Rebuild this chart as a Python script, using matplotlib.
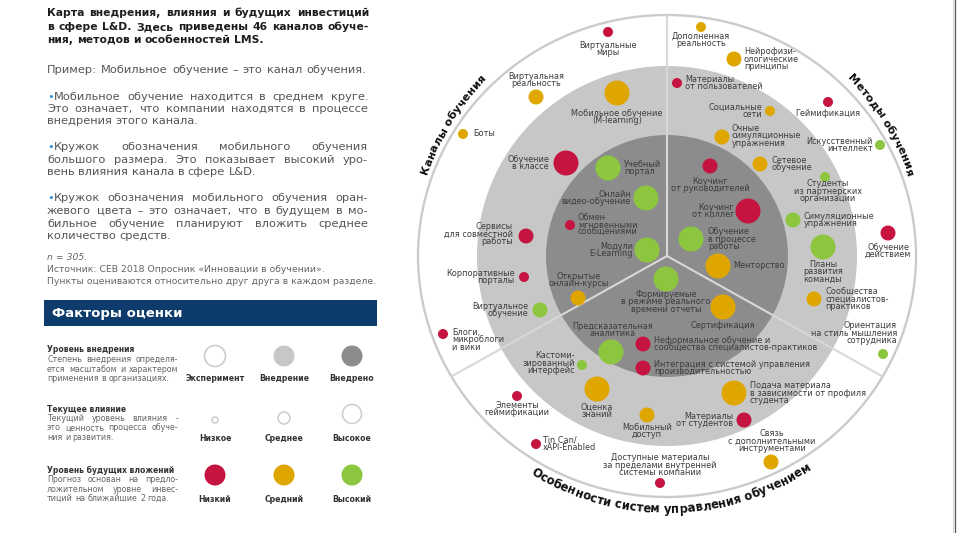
import matplotlib
matplotlib.use("Agg")
import matplotlib.pyplot as plt
from matplotlib.patches import Circle, Ellipse, Rectangle
from matplotlib.font_manager import FontProperties
import numpy as np

# ---------------- data ----------------
sector_titles = ["Каналы обучения", "Методы обучения", "Особенности систем управления обучением"]

names = [
    # channels
    "Виртуальные\nмиры", "Виртуальная\nреальность", "Мобильное обучение\n(M-learning)", "Боты",
    "Обучение\nв классе", "Учебный\nпортал", "Онлайн\nвидео-обучение",
    "Обмен\nмгновенными\nсообщениями", "Сервисы\nдля совместной\nработы", "Модули\nE-Learning",
    "Корпоративные\nпорталы", "Виртуальное\nобучение", "Блоги,\nмикроблоги\nи вики",
    "Открытые\nонлайн-курсы",
    # methods
    "Дополненная\nреальность", "Нейрофизи-\nологические\nпринципы", "Материалы\nот пользователей",
    "Социальные\nсети", "Геймификация", "Очные\nсимуляционные\nупражнения",
    "Искусственный\nинтеллект", "Сетевое\nобучение", "Студенты\nиз партнерских\nорганизации",
    "Коучинг\nот руководителей", "Коучинг\nот коллег", "Симуляционные\nупражнения",
    "Обучение\nдействием", "Обучение\nв процессе\nработы", "Планы\nразвития\nкоманды",
    "Менторство", "Сообщества\nспециалистов-\nпрактиков", "Ориентация\nна стиль мышления\nсотрудника",
    # LMS features
    "Формируемые\nв режиме реального\nвремени отчеты", "Сертификация",
    "Предсказательная\nаналитика",
    "Неформальное обучение и\nсообщества специалистов-практиков",
    "Интеграция с системой управления\nпроизводительностью",
    "Кастоми-\nзированный\nинтерфейс", "Оценка\nзнаний", "Элементы\nгеймификации",
    "Мобильный\nдоступ", "Подача материала\nв зависимости от профиля\nстудента",
    "Материалы\nот студентов", "Tin Can/\nxAPI-Enabled",
    "Связь\nс дополнительными\nинструментами",
    "Доступные материалы\nза пределами внутренней\nсистемы компании",
]
# current impact: 1 low, 2 medium, 3 high
impact = [1, 2, 3, 1, 3, 3, 3, 1, 2, 3, 1, 2, 1, 2,
          1, 2, 1, 1, 1, 2, 1, 2, 1, 2, 3, 2, 2, 3, 3, 3, 2, 1,
          3, 3, 3, 2, 2, 1, 3, 1, 2, 3, 2, 1, 2, 1]
# future investment: L low, M medium, H high
invest = ["L", "M", "M", "M", "L", "H", "H", "L", "L", "H", "L", "H", "L", "M",
          "M", "M", "L", "M", "L", "M", "H", "M", "H", "L", "L", "H", "L", "H", "H", "M", "M", "H",
          "H", "M", "H", "L", "L", "H", "M", "L", "M", "M", "L", "L", "M", "L"]

# ---------------- layout (pixel positions of bubbles and labels) ----------------
bubble_xy = [
    (608, 32), (536, 97), (617, 93), (463, 134), (566, 163), (608, 168), (646, 198),
    (570, 225), (526, 236), (647, 250), (524, 277), (540, 310), (443, 334), (578, 298),
    (701, 27), (734, 59), (677, 83), (770, 111), (828, 102), (722, 137), (880, 145),
    (760, 164), (825, 177), (710, 166), (748, 211), (793, 220), (888, 233), (691, 239),
    (823, 247), (718, 266), (814, 299), (883, 354),
    (666, 279), (723, 307), (611, 352), (643, 344), (643, 368), (582, 365), (597, 389),
    (517, 396), (647, 415), (734, 393), (744, 420), (536, 444), (771, 462), (660, 483),
]
label_xy = [
    (608, 49, "center"), (536, 80, "center"), (617, 117, "center"), (473, 134, "left"),
    (549, 163, "right"), (624, 168, "left"), (631, 198, "right"), (578, 225, "left"),
    (513, 234, "right"), (633, 250, "right"), (515, 277, "right"), (528, 310, "right"),
    (452, 340, "left"), (579, 280, "center"),
    (701, 40, "center"), (744, 59, "left"), (685, 83, "left"), (762, 111, "right"),
    (828, 113, "center"), (732, 136, "left"), (873, 145, "right"), (771, 164, "left"),
    (828, 191, "center"), (710, 185, "center"), (734, 211, "right"), (804, 220, "left"),
    (888, 251, "center"), (708, 239, "left"), (823, 272, "center"), (733, 266, "left"),
    (825, 299, "left"), (897, 333, "right"),
    (666, 302, "center"), (723, 325, "center"), (613, 330, "center"), (654, 344, "left"),
    (654, 368, "left"), (575, 363, "right"), (597, 411, "center"), (517, 409, "center"),
    (647, 431, "center"), (750, 393, "left"), (733, 420, "right"), (543, 444, "left"),
    (772, 441, "center"), (660, 465, "center"),
]

W, H = 957, 533
CX, CY = 667, 256
R_OUT_X, R_OUT_Y = 249, 241
R_MID = 190
R_IN = 121

C_RED, C_ORA, C_GRN = "#c4143f", "#e0a600", "#8cc63e"
C_DARK, C_LIGHT = "#8c8c8c", "#c7c7c7"
inv_color = {"L": C_RED, "M": C_ORA, "H": C_GRN}
imp_radius = {1: 5.0, 2: 7.5, 3: 12.5}

FONT = "DejaVu Sans"
plt.rcParams["font.family"] = [FONT]

fig = plt.figure(figsize=(W / 100, H / 100), dpi=100)
ax = fig.add_axes([0, 0, 1, 1])
ax.set_xlim(0, W)
ax.set_ylim(H, 0)
ax.axis("off")
renderer = fig.canvas.get_renderer()


def text_w(s, fp):
    if s == "":
        return 0.0
    return renderer.get_text_width_height_descent(s, fp, ismath=False)[0]


# ---------------- the wheel ----------------
ax.add_patch(Ellipse((CX, CY), 2 * R_OUT_X, 2 * R_OUT_Y, facecolor="white",
                     edgecolor="#cbcbcb", lw=1.7, zorder=1))
ax.add_patch(Circle((CX, CY), R_MID, facecolor=C_LIGHT, edgecolor="none", zorder=2))
ax.add_patch(Circle((CX, CY), R_IN, facecolor=C_DARK, edgecolor="none", zorder=3))
for ang in (90, 210, 330):
    t = np.radians(ang)
    ax.plot([CX, CX + R_OUT_X * np.cos(t)], [CY, CY - R_OUT_Y * np.sin(t)],
            color="#d8d8d8", lw=1.5, zorder=4, solid_capstyle="butt")

lab_fp = FontProperties(family=FONT, size=5.9)
for (x, y), (lx, ly, ha), nm, im, iv in zip(bubble_xy, label_xy, names, impact, invest):
    ax.add_patch(Circle((x, y), imp_radius[im], facecolor=inv_color[iv],
                        edgecolor="none", zorder=6))
    ax.text(lx, ly, nm, ha=ha, va="center", multialignment=ha, fontproperties=lab_fp,
            color="#3c3c3c", linespacing=0.76, zorder=7)


def arc_text(text, theta_c, R, size, outward=True):
    fp = FontProperties(family=FONT, weight="bold", size=size)
    L = text_w(text, fp)
    d = -1 if outward else 1
    th0 = np.radians(theta_c) - d * (L / 2) / R
    for i, ch in enumerate(text):
        if ch == " ":
            continue
        s = text_w(text[:i], fp) + text_w(ch, fp) / 2
        th = th0 + d * s / R
        x = CX + R * np.cos(th)
        y = CY - R * np.sin(th)
        rot = np.degrees(th) - 90 if outward else np.degrees(th) + 90
        ax.text(x, y, ch, rotation=rot, ha="center", va="baseline",
                rotation_mode="anchor", fontproperties=fp, color="#111111", zorder=8)


arc_text(sector_titles[0], 148.5, 253, 8.0, outward=True)
arc_text(sector_titles[1], 31.5, 253, 8.0, outward=True)
arc_text(sector_titles[2], 271, 257, 8.4, outward=False)

# right border line of the page
ax.plot([954.5, 954.5], [0, H], color="#555555", lw=0.9)
ax.plot([952.5, 952.5], [0, H], color="#d5d5d5", lw=0.8)

# ---------------- left text ----------------
XL, XR = 47, 369


def fit_size(lines_x0, x1, base_fp, shrink=0.985):
    """largest font size so every line fits with plain spaces"""
    best = 100.0
    for ln, x0 in lines_x0:
        w1 = text_w(ln, base_fp) / base_fp.get_size_in_points()
        best = min(best, (x1 - x0) / w1)
    return best * shrink


def justify(line, y, fp, color, x0=XL, x1=XR, just=True):
    words = line.split(" ")
    ws = [text_w(w, fp) for w in words]
    if just and len(words) > 1:
        gap = (x1 - x0 - sum(ws)) / (len(words) - 1)
    else:
        gap = text_w("a a", fp) - 2 * text_w("a", fp)
    x = x0
    for w, wd in zip(words, ws):
        ax.text(x, y, w, ha="left", va="center", fontproperties=fp, color=color)
        x += wd + gap


title_lines = ["Карта внедрения, влияния и будущих инвестиций",
               "в сфере L&D. Здесь приведены 46 каналов обуче-",
               "ния, методов и особенностей LMS."]
title_fp = FontProperties(family=FONT, weight="bold", size=8)
title_fp.set_size(fit_size([(l, XL) for l in title_lines[:2]], XR, title_fp))
for i, (ln, y) in enumerate(zip(title_lines, [13, 27, 40])):
    justify(ln, y, title_fp, "#1e1e1e", just=i < 2)

paras = [
    (["Мобильное обучение находится в среднем круге.",
      "Это означает, что компании находятся в процессе",
      "внедрения этого канала."], [97, 109, 121]),
    (["Кружок обозначения мобильного обучения",
      "большого размера. Это показывает высокий уро-",
      "вень влияния канала в сфере L&D."], [147, 160, 172]),
    (["Кружок обозначения мобильного обучения оран-",
      "жевого цвета – это означает, что в будущем в мо-",
      "бильное обучение планируют вложить среднее",
      "количество средств."], [198, 211, 224, 236]),
]
body_fp = FontProperties(family=FONT, size=8)
bw = text_w("•", body_fp)
cand = [("Пример: Мобильное обучение – это канал обучения.", XL)]
for lines, ys in paras:
    for i, ln in enumerate(lines[:-1]):
        cand.append((ln, XL + (bw if i == 0 else 0)))
body_fp.set_size(fit_size(cand, XR - 1, body_fp))
bw = text_w("•", body_fp)

justify("Пример: Мобильное обучение – это канал обучения.", 70, body_fp, "#555555", x1=366)
for lines, ys in paras:
    for i, (ln, y) in enumerate(zip(lines, ys)):
        x0 = XL
        if i == 0:
            ax.text(XL, y, "•", ha="left", va="center", fontproperties=body_fp, color="#2f8fd3")
            x0 = XL + bw
        justify(ln, y, body_fp, "#555555", x0=x0, x1=XR - 1, just=i < len(lines) - 1)

src_lines = ["Источник: CEB 2018 Опросник «Инновации в обучении».",
             "Пункты оцениваются относительно друг друга в каждом разделе."]
src_fp = FontProperties(family=FONT, size=6)
src_fp.set_size(fit_size([(src_lines[1], XL)], 377, src_fp, shrink=1.0))
ax.text(XL, 258, "n = 305.", ha="left", va="center", fontproperties=FontProperties(
    family=FONT, size=src_fp.get_size_in_points(), style="italic"), color="#666666")
ax.text(XL, 270, src_lines[0], ha="left", va="center", fontproperties=src_fp, color="#666666")
ax.text(XL, 281, src_lines[1], ha="left", va="center", fontproperties=src_fp, color="#666666")

# ---------------- legend ----------------
ax.add_patch(Rectangle((44, 300), 333, 26, facecolor="#0d3c6c", edgecolor="none"))
ax.text(52, 313.5, "Факторы оценки", ha="left", va="center", color="white",
        fontproperties=FontProperties(family=FONT, size=9.5, weight="semibold"))

leg_cols_x = [215, 284, 352]
adopt_levels = ["Эксперимент", "Внедрение", "Внедрено"]
impact_levels = ["Низкое", "Среднее", "Высокое"]
invest_levels = ["Низкий", "Средний", "Высокий"]

hdr_fp = FontProperties(family=FONT, size=5.5, weight="bold")
lab2_fp = FontProperties(family=FONT, size=5.6, weight="bold")

rows = [
    ("Уровень внедрения", ["Степень внедрения определя-", "ется масштабом и характером",
                           "применения в организациях."], 350),
    ("Текущее влияние", ["Текущий уровень влияния -", "это ценность процесса обуче-",
                         "ния и развития."], 409),
    ("Уровень будущих вложений", ["Прогноз основан на предло-", "ложительном уровне инвес-",
                                  "тиций на ближайшие 2 года."], 470),
]
dsc_fp = FontProperties(family=FONT, size=6)
dsc_fp.set_size(fit_size([(l, XL) for _, d, _ in rows for l in d[:-1]], 178, dsc_fp))
for hdr, dsc, y0 in rows:
    ax.text(XL, y0, hdr, ha="left", va="center", fontproperties=hdr_fp, color="#333333")
    for i, ln in enumerate(dsc):
        justify(ln, y0 + 9.5 * (i + 1), dsc_fp, "#666666", x1=178, just=i < len(dsc) - 1)

# row 1: adoption
adopt_fc = ["white", C_LIGHT, C_DARK]
for x, fc, lb in zip(leg_cols_x, adopt_fc, adopt_levels):
    ax.add_patch(Circle((x, 356), 10.5, facecolor=fc,
                        edgecolor="#cccccc" if fc == "white" else "none", lw=1.2))
    ax.text(x, 378.5, lb, ha="center", va="center", fontproperties=lab2_fp, color="#333333")
# row 2: impact
for x, im, lb, cy in zip(leg_cols_x, [1, 2, 3], impact_levels, [420, 418, 414]):
    rr = {1: 3.0, 2: 6.0, 3: 9.5}[im]
    ax.add_patch(Circle((x, cy), rr, facecolor="white", edgecolor="#cccccc", lw=1.1))
    ax.text(x, 438.5, lb, ha="center", va="center", fontproperties=lab2_fp, color="#333333")
# row 3: investment
for x, iv, lb in zip(leg_cols_x, ["L", "M", "H"], invest_levels):
    ax.add_patch(Circle((x, 475), 10.5, facecolor=inv_color[iv], edgecolor="none"))
    ax.text(x, 499, lb, ha="center", va="center", fontproperties=lab2_fp, color="#333333")

fig.savefig("out.png", dpi=100)
